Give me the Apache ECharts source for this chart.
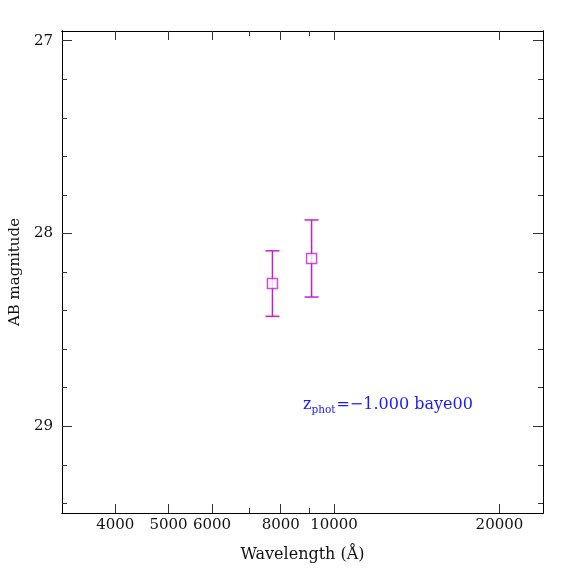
<!DOCTYPE html>
<html>
<head>
<meta charset="utf-8">
<script src="https://cdn.jsdelivr.net/npm/echarts@6/dist/echarts.min.js"></script>
<style>
  html, body { margin: 0; padding: 0; background: #fff; }
  #chart { width: 574px; height: 574px; }
</style>
</head>
<body>
<div id="chart"></div>
<script>
// photometry points (wavelength in A, AB mag, 1-sigma error)
var wave = [7727, 9103];
var mag = [28.26, 28.13];
var magErr = [0.17, 0.20];

// axis ticks
var xLabels = [4000, 5000, 6000, 8000, 10000, 20000];
var xMinor = [7000, 9000];
var yLabels = [27, 28, 29];
var yMinor = [27.2, 27.4, 27.6, 27.8, 28.2, 28.4, 28.6, 28.8, 29.2, 29.4];

var magenta = '#c020d0';
var font = 'DejaVu Serif';

var pts = [];
var bars = [];
for (var i = 0; i < wave.length; i++) {
    pts.push([wave[i], mag[i]]);
    bars.push([wave[i], mag[i] - magErr[i], mag[i] + magErr[i]]);
}

function xAx(pos, ticks, len, withLabel) {
    return {
        type: 'log',
        logBase: 10,
        min: 3200,
        max: 24000,
        position: pos,
        gridIndex: 0,
        axisLine: { show: true, lineStyle: { color: '#000', width: 1 } },
        axisTick: { show: true, inside: true, length: len, customValues: ticks, lineStyle: { color: '#333' } },
        axisLabel: withLabel ? {
            show: true, customValues: ticks, margin: 5,
            formatter: function (v) { return String(Math.round(v)); },
            fontFamily: font, fontSize: 15, color: '#111'
        } : { show: false },
        splitLine: { show: false },
        minorTick: { show: false },
        name: withLabel ? 'Wavelength (\u00c5)' : '',
        nameLocation: 'middle',
        nameGap: 34,
        nameTextStyle: { fontFamily: font, fontSize: 16, color: '#111' }
    };
}

function yAx(pos, ticks, len, withLabel) {
    return {
        type: 'value',
        inverse: true,
        min: 26.95,
        max: 29.45,
        position: pos,
        gridIndex: 0,
        axisLine: { show: true, lineStyle: { color: '#000', width: 1 } },
        axisTick: { show: true, inside: true, length: len, customValues: ticks, lineStyle: { color: '#333' } },
        axisLabel: withLabel ? {
            show: true, customValues: ticks, margin: 9,
            fontFamily: font, fontSize: 15, color: '#111'
        } : { show: false },
        splitLine: { show: false },
        name: withLabel ? 'AB magnitude' : '',
        nameLocation: 'middle',
        nameGap: 39,
        nameTextStyle: { fontFamily: font, fontSize: 15, color: '#111' }
    };
}

var option = {
    animation: false,
    backgroundColor: '#fff',
    grid: { left: 62, right: 31, top: 31, bottom: 61, outerBoundsMode: 'none', containLabel: false },
    xAxis: [
        xAx('bottom', xLabels, 9, true),
        xAx('bottom', xMinor, 5, false),
        xAx('top', xLabels, 9, false),
        xAx('top', xMinor, 5, false)
    ],
    yAxis: [
        yAx('left', yLabels, 10, true),
        yAx('left', yMinor, 5, false),
        yAx('right', yLabels, 10, false),
        yAx('right', yMinor, 5, false)
    ],
    series: [
        {
            type: 'custom',
            xAxisIndex: 0,
            yAxisIndex: 0,
            data: bars,
            renderItem: function (params, api) {
                var top = api.coord([api.value(0), api.value(1)]);
                var bot = api.coord([api.value(0), api.value(2)]);
                var hw = 7;
                var st = { stroke: magenta, lineWidth: 1.5 };
                return {
                    type: 'group',
                    children: [
                        { type: 'line', shape: { x1: top[0], y1: top[1], x2: bot[0], y2: bot[1] }, style: st },
                        { type: 'line', shape: { x1: top[0] - hw, y1: top[1], x2: top[0] + hw, y2: top[1] }, style: st },
                        { type: 'line', shape: { x1: bot[0] - hw, y1: bot[1], x2: bot[0] + hw, y2: bot[1] }, style: st }
                    ]
                };
            }
        },
        {
            type: 'scatter',
            xAxisIndex: 0,
            yAxisIndex: 0,
            data: pts,
            symbol: 'rect',
            symbolSize: 10,
            itemStyle: { color: '#fff', borderColor: magenta, borderWidth: 1.5 },
            z: 5
        }
    ],
    graphic: [
        {
            type: 'text',
            left: 303,
            top: 397,
            style: {
                text: '{a|z}{b|phot}{a|=\u22121.000 baye00}',
                rich: {
                    a: { fontFamily: font, fontSize: 16, fill: '#1a1aff' },
                    b: { fontFamily: font, fontSize: 10.5, fill: '#1a1aff', padding: [10, 1, 0, 0] }
                }
            }
        }
    ]
};

var myChart = echarts.init(document.getElementById('chart'));
myChart.setOption(option);
</script>
</body>
</html>
